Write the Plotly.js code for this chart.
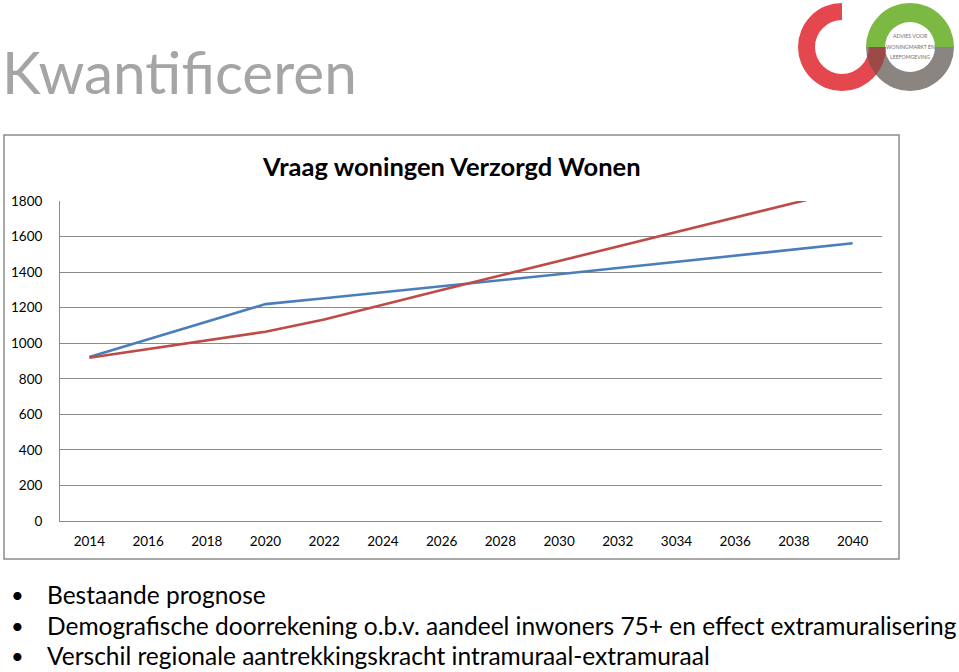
<!DOCTYPE html>
<html>
<head>
<meta charset="utf-8">
<script src="https://cdn.plot.ly/plotly-3.0.1.min.js"></script>
<style>html,body{margin:0;padding:0;background:#fff;}#chart{width:959px;height:672px;}</style>
</head>
<body>
<div id="chart"></div>
<script>
// ---- data ----
const years = ['2014','2016','2018','2020','2022','2024','2026','2028','2030','2032','3034','2036','2038','2040'];
const bestaandePrognose = [922, 1021, 1120, 1220, 1253, 1286, 1318, 1353, 1388, 1423, 1458, 1493, 1528, 1562];
const demografisch = [918, 968, 1018, 1065, 1134, 1218, 1300, 1381, 1462, 1544, 1625, 1707, 1788, 1870];
const yTicks = [0, 200, 400, 600, 800, 1000, 1200, 1400, 1600, 1800];

const pageTitle = 'Kwantificeren';
const chartTitle = 'Vraag woningen Verzorgd Wonen';
const bullets = [
  'Bestaande prognose',
  'Demografische doorrekening o.b.v. aandeel inwoners 75+ en effect extramuralisering',
  'Verschil regionale aantrekkingskracht intramuraal-extramuraal'
];
const logoLines = ['ADVIES VOOR', 'WONINGMARKT EN', 'LEEFOMGEVING'];

// ---- geometry helpers (page pixels -> paper) ----
const W = 959, H = 672;
const M = {l: 60, r: 77, t: 201, b: 151};
const PW = W - M.l - M.r, PH = H - M.t - M.b;
const px = x => (x - M.l) / PW;
const py = y => (H - M.b - y) / PH;

const FONT = 'Lato, "Open Sans", sans-serif';

const traces = [
  {x: years, y: bestaandePrognose, type: 'scatter', mode: 'lines', name: 'Bestaande prognose',
   line: {color: '#4a7ebb', width: 2.6}, hoverinfo: 'x+y'},
  {x: years, y: demografisch, type: 'scatter', mode: 'lines', name: 'Demografische doorrekening',
   line: {color: '#be4b48', width: 2.6}, hoverinfo: 'x+y'}
];

// logo as svg image (decoration)
const ringG = 'M 866 47 A 44 44 0 0 1 954 47 L 935 47 A 25 25 0 0 0 885 47 Z';
const ringGr = 'M 954 47 A 44 44 0 0 1 866 47 L 885 47 A 25 25 0 0 0 935 47 Z';
const redArc = 'M 842 3 A 44 44 0 1 0 886 47 L 869 47 A 27 27 0 1 1 842 20 Z';
const svg = '<svg xmlns="http://www.w3.org/2000/svg" width="169" height="100" viewBox="790 0 169 100">' +
  '<defs><clipPath id="c"><path d="' + ringGr + '"/></clipPath></defs>' +
  '<path d="' + redArc + '" fill="#e5474f"/>' +
  '<path d="' + ringGr + '" fill="#8b8581"/>' +
  '<path d="' + redArc + '" fill="#9c4a48" clip-path="url(#c)"/>' +
  '<path d="' + ringG + '" fill="#7cb942"/>' +
  '</svg>';
const logoSrc = 'data:image/svg+xml;charset=utf-8,' + encodeURIComponent(svg);

const annotations = [];
annotations.push({text: pageTitle, xref: 'paper', yref: 'paper', x: px(0), y: py(71),
  xanchor: 'left', yanchor: 'middle', showarrow: false,
  font: {family: FONT, size: 58.5, color: '#a5a5a5'}});
annotations.push({text: '<b>' + chartTitle + '</b>', xref: 'paper', yref: 'paper', x: px(451), y: py(166),
  xanchor: 'center', yanchor: 'middle', showarrow: false,
  font: {family: FONT, size: 25.5, color: '#000'}});
const bulletY = [594, 625, 655];
bullets.forEach((t, i) => {
  annotations.push({text: '•', xref: 'paper', yref: 'paper', x: px(17), y: py(bulletY[i]),
    xanchor: 'center', yanchor: 'middle', showarrow: false,
    font: {family: FONT, size: 22, color: '#000'}});
  annotations.push({text: t, xref: 'paper', yref: 'paper', x: px(45), y: py(bulletY[i]),
    xanchor: 'left', yanchor: 'middle', showarrow: false,
    font: {family: FONT, size: 24.5, color: '#000'}});
});
const logoY = [36, 47, 57];
logoLines.forEach((t, i) => {
  annotations.push({text: t, xref: 'paper', yref: 'paper', x: px(910), y: py(logoY[i]),
    xanchor: 'center', yanchor: 'middle', showarrow: false,
    font: {family: FONT, size: 5.2, color: '#6e6e6e'}});
});

const layout = {
  width: W, height: H,
  margin: M,
  paper_bgcolor: '#ffffff', plot_bgcolor: '#ffffff',
  showlegend: false,
  font: {family: FONT, color: '#000'},
  xaxis: {type: 'category', range: [-0.5, years.length - 0.5], showgrid: false,
    showline: true, linecolor: '#8a8a8a', linewidth: 1, ticks: '', zeroline: false,
    tickfont: {family: FONT, size: 13.5, color: '#000'}, ticklabelstandoff: 8, fixedrange: true},
  yaxis: {range: [0, 1800], tickvals: yTicks, ticktext: yTicks.map(String),
    showgrid: true, gridcolor: '#8a8a8a', gridwidth: 1, showline: true, linecolor: '#8a8a8a',
    linewidth: 1, zeroline: false, ticks: '', tickfont: {family: FONT, size: 13.5, color: '#000'},
    ticklabelstandoff: 14, fixedrange: true},
  shapes: [
    {type: 'rect', xref: 'paper', yref: 'paper', x0: px(4), x1: px(899), y0: py(559), y1: py(135),
     line: {color: '#8c8c8c', width: 1.5}, fillcolor: 'rgba(0,0,0,0)', layer: 'below'}
  ],
  images: [
    {source: logoSrc, xref: 'paper', yref: 'paper', x: px(790), y: py(0), sizex: 169 / PW, sizey: 100 / PH,
     xanchor: 'left', yanchor: 'top', sizing: 'stretch', layer: 'above'}
  ],
  annotations: annotations
};

Plotly.newPlot('chart', traces, layout, {displayModeBar: false, staticPlot: true});
</script>
</body>
</html>
